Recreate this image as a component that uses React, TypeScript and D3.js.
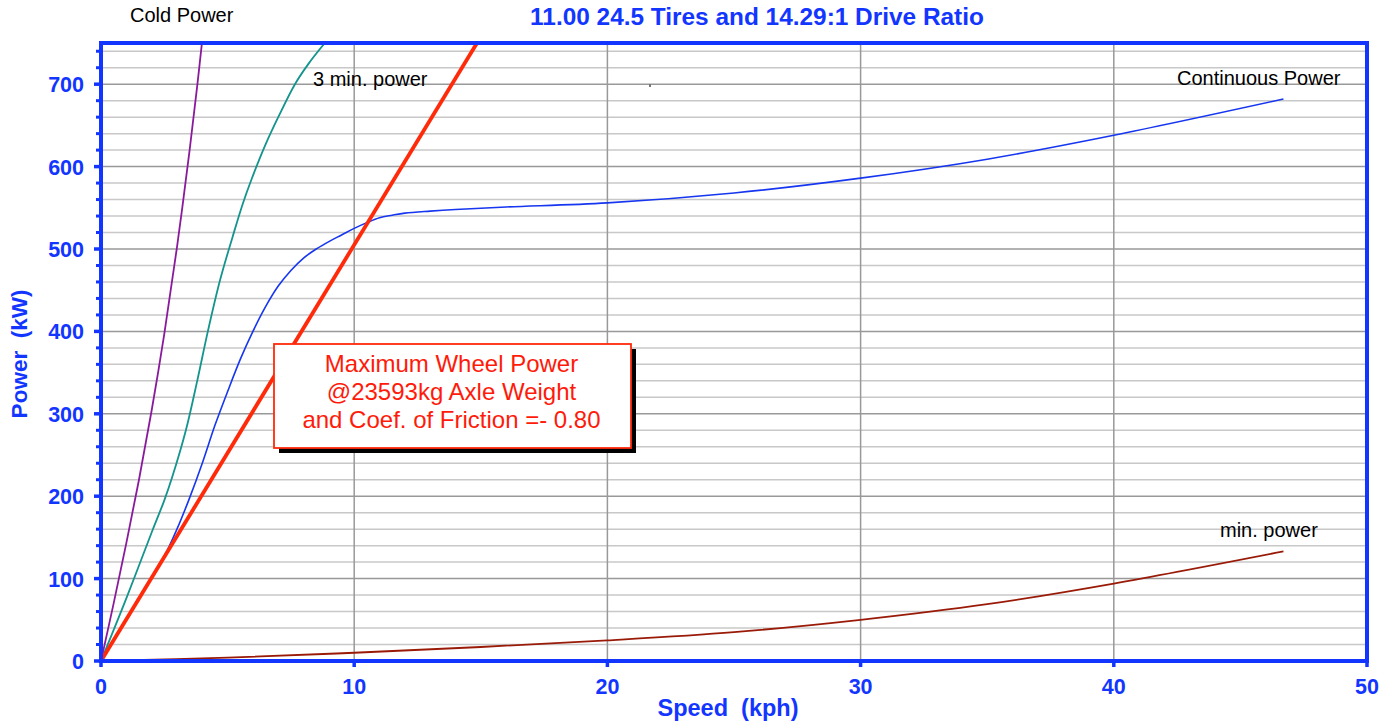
import React, { useEffect, useRef } from "react";
import * as d3 from "d3";

const xTicks = [0, 10, 20, 30, 40, 50];
const yTicks = [0, 100, 200, 300, 400, 500, 600, 700];
const yMinorTicks = d3.range(0, 760, 20);

const coldPower: [number, number][] = [
  [0, 0], [0.5, 70], [1, 143], [1.5, 220], [2, 304], [2.5, 397], [3, 502], [3.5, 620], [3.8, 698], [4, 754],
];
const threeMinPower: [number, number][] = [
  [0, 0], [1, 76], [2, 156], [2.5, 195], [2.8, 222], [3.36, 281], [3.8, 340], [4.22, 400], [4.7, 462], [5.2, 515],
  [5.6, 555], [5.95, 585], [6.5, 627], [7, 660], [7.66, 700], [8.2, 725], [8.84, 750],
];
const continuousPower: [number, number][] = [
  [0, 0], [1, 50], [2, 101], [2.5, 127], [3, 160], [3.5, 198], [4, 240], [4.5, 286], [5, 327], [5.5, 366], [6, 400],
  [6.5, 430], [7, 455], [7.5, 474], [8, 489], [8.5, 500], [9, 509], [9.5, 517], [10, 525], [10.5, 532], [11, 538],
  [11.5, 541], [12, 543.5], [13, 546], [14, 548], [16, 551], [20, 556], [25, 568], [30, 586], [35, 609], [40, 638], [46.7, 682],
];
const minPower: [number, number][] = [
  [0, 0], [5, 4], [10, 10], [15, 17], [20, 25], [25, 35], [30, 50], [35, 69], [40, 94], [46.7, 133],
];
const maxWheelPower: [number, number][] = [
  [0, 0], [14.85, 750],
];

const titleText = "11.00 24.5 Tires and 14.29:1 Drive Ratio";
const boxLines = ["Maximum Wheel Power", "@23593kg Axle Weight", "and Coef. of Friction =- 0.80"];

export default function App() {
  const ref = useRef<SVGSVGElement | null>(null);
  useEffect(() => {
    const svg = d3.select(ref.current);
    svg.selectAll("*").remove();
    const W = 1397, H = 725;
    const L = 101, R = 1367, T = 43, B = 661;
    const x = d3.scaleLinear().domain([0, 50]).range([L, R]);
    const y = d3.scaleLinear().domain([0, 750]).range([B, T]);
    const blue = "#1236ff";
    const font = "'Liberation Sans', Arial, Helvetica, sans-serif";

    svg.append("rect").attr("width", W).attr("height", H).attr("fill", "#fff");

    svg.append("g").selectAll("line").data(yMinorTicks.filter(v => v % 100 !== 0 && v < 750)).join("line")
      .attr("x1", L).attr("x2", R).attr("y1", d => y(d)).attr("y2", d => y(d))
      .attr("stroke", "#c8c8c8").attr("stroke-width", 1.5);
    svg.append("g").selectAll("line").data(yTicks.filter(v => v > 0)).join("line")
      .attr("x1", L).attr("x2", R).attr("y1", d => y(d)).attr("y2", d => y(d))
      .attr("stroke", "#999").attr("stroke-width", 1.5);
    svg.append("g").selectAll("line").data(xTicks.filter(v => v > 0 && v < 50)).join("line")
      .attr("x1", d => x(d)).attr("x2", d => x(d)).attr("y1", T).attr("y2", B)
      .attr("stroke", "#999").attr("stroke-width", 1.5);

    svg.append("rect").attr("x", 649).attr("y", 84).attr("width", 2).attr("height", 3).attr("fill", "#777");

    const line = d3.line<[number, number]>().x(d => x(d[0])).y(d => y(d[1])).curve(d3.curveCatmullRom.alpha(0.5));
    const clip = svg.append("clipPath").attr("id", "plotclip");
    clip.append("rect").attr("x", L).attr("y", T).attr("width", R - L).attr("height", B - T);
    const g = svg.append("g").attr("clip-path", "url(#plotclip)");

    g.append("path").datum(minPower).attr("d", line).attr("fill", "none").attr("stroke", "#9a1a08").attr("stroke-width", 1.8);
    g.append("path").datum(continuousPower).attr("d", line).attr("fill", "none").attr("stroke", "#1636f0").attr("stroke-width", 1.6);
    g.append("path").datum(threeMinPower).attr("d", line).attr("fill", "none").attr("stroke", "#13948c").attr("stroke-width", 1.8);
    g.append("path").datum(coldPower).attr("d", line).attr("fill", "none").attr("stroke", "#8a1a9c").attr("stroke-width", 1.8);
    g.append("path").datum(maxWheelPower).attr("d", d3.line<[number, number]>().x(d => x(d[0])).y(d => y(d[1])))
      .attr("fill", "none").attr("stroke", "#ff2a0a").attr("stroke-width", 3.8);

    svg.append("rect").attr("x", L).attr("y", T).attr("width", R - L).attr("height", B - T)
      .attr("fill", "none").attr("stroke", blue).attr("stroke-width", 4);

    svg.append("g").selectAll("line").data(yMinorTicks.filter(v => v <= 750)).join("line")
      .attr("x1", d => (d % 100 === 0 ? L - 7 : L - 5)).attr("x2", L).attr("y1", d => y(d)).attr("y2", d => y(d))
      .attr("stroke", blue).attr("stroke-width", d => (d % 100 === 0 ? 3.5 : 3));
    svg.append("g").selectAll("text").data(yTicks).join("text")
      .attr("x", 84).attr("y", d => y(d) + 8).attr("text-anchor", "end")
      .attr("font-family", font).attr("font-weight", "bold").attr("font-size", 21.5).attr("fill", blue)
      .text(d => String(d));

    svg.append("g").selectAll("line").data(xTicks).join("line")
      .attr("x1", d => x(d)).attr("x2", d => x(d)).attr("y1", B).attr("y2", B + 6)
      .attr("stroke", blue).attr("stroke-width", 3.5);
    svg.append("g").selectAll("text").data(xTicks).join("text")
      .attr("x", d => x(d)).attr("y", 694).attr("text-anchor", "middle")
      .attr("font-family", font).attr("font-weight", "bold").attr("font-size", 21.5).attr("fill", blue)
      .text(d => String(d));

    svg.append("text").attr("x", 728).attr("y", 716).attr("text-anchor", "middle")
      .attr("font-family", font).attr("font-weight", "bold").attr("font-size", 23.5).attr("fill", blue)
      .attr("xml:space", "preserve").text("Speed  (kph)");
    svg.append("text").attr("transform", `translate(27,354) rotate(-90)`).attr("text-anchor", "middle")
      .attr("font-family", font).attr("font-weight", "bold").attr("font-size", 22.5).attr("fill", blue)
      .attr("xml:space", "preserve").text("Power  (kW)");

    svg.append("text").attr("x", 757).attr("y", 25).attr("text-anchor", "middle")
      .attr("font-family", font).attr("font-weight", "bold").attr("font-size", 24.4).attr("fill", blue)
      .text(titleText);

    const lbl = (t: string, px: number, py: number) =>
      svg.append("text").attr("x", px).attr("y", py).attr("font-family", font).attr("font-size", 20).attr("fill", "#000").text(t);
    lbl("Cold Power", 130, 22);
    lbl("3 min. power", 313, 86);
    lbl("Continuous Power", 1177, 85);
    lbl("min. power", 1220, 537);

    const bx = 274, by = 344, bw = 357, bh = 104;
    svg.append("rect").attr("x", bx + 5).attr("y", by + 5).attr("width", bw).attr("height", bh).attr("fill", "#000");
    svg.append("rect").attr("x", bx).attr("y", by).attr("width", bw).attr("height", bh)
      .attr("fill", "#fff").attr("stroke", "#ff2a0a").attr("stroke-width", 1.8);
    svg.append("g").selectAll("text").data(boxLines).join("text")
      .attr("x", bx + bw / 2 - 1).attr("y", (_d, i) => by + 28 + i * 28).attr("text-anchor", "middle")
      .attr("font-family", font).attr("font-size", 24).attr("fill", "#ff1a0a")
      .text(d => d);
  }, []);
  return <svg ref={ref} width={1397} height={725} style={{ display: "block", position: "absolute", left: 0, top: 0 }} />;
}
